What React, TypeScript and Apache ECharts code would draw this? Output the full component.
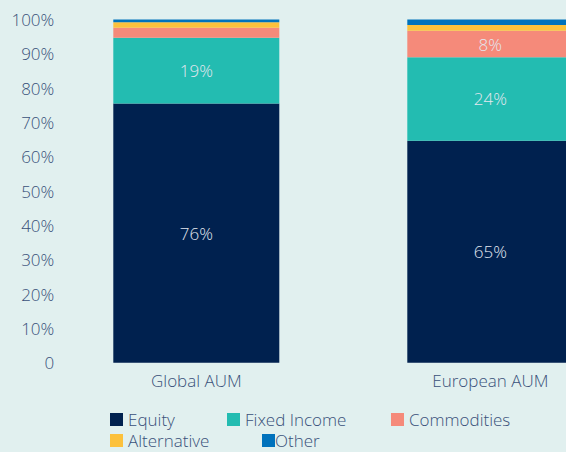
import React, { useEffect, useRef } from "react";
import * as echarts from "echarts";

const categories = ["Global AUM", "European AUM"];
const seriesNames = ["Equity", "Fixed Income", "Commodities", "Alternative", "Other"];
const equity = [75.5, 64.7];
const fixedIncome = [19.2, 24.3];
const commodities = [2.9, 7.7];
const alternative = [1.6, 1.7];
const other = [0.8, 1.6];
const colors = ["#00214f", "#23bcb1", "#f58a7a", "#fcc13c", "#0072bc"];

const FONT = "'Open Sans', sans-serif";
const TEXT = "#39507a";

export default function App() {
  const ref = useRef<HTMLDivElement>(null);
  useEffect(() => {
    if (!ref.current) return;
    const chart = echarts.init(ref.current, null, { renderer: "svg" });
    const values = [equity, fixedIncome, commodities, alternative, other];
    const legendPos = [
      { left: 110, top: 411 },
      { left: 227, top: 411 },
      { left: 391, top: 411 },
      { left: 110, top: 432 },
      { left: 262, top: 432 },
    ];
    chart.setOption({
      animation: false,
      backgroundColor: "#e1f0ef",
      textStyle: { fontFamily: FONT },
      grid: { left: 49.3, top: 19.5, width: 588, height: 343.2, containLabel: false },
      legend: seriesNames.map((n, i) => ({
        data: [n],
        left: legendPos[i].left,
        top: legendPos[i].top,
        icon: "rect",
        itemWidth: 13,
        itemHeight: 13,
        padding: 0,
        textStyle: {
          color: TEXT,
          fontSize: 17,
          fontWeight: 300,
          lineHeight: 13,
          fontFamily: FONT,
          padding: i === 4 ? [0, 0, 0, -5] : [0, 0, 0, 0],
        },
      })),
      xAxis: {
        type: "category",
        data: categories,
        axisLine: { show: false },
        axisTick: { show: false },
        axisLabel: { color: TEXT, fontSize: 17, fontWeight: 300, margin: 9 },
      },
      yAxis: {
        type: "value",
        min: 0,
        max: 100,
        interval: 10,
        splitLine: { show: false },
        axisLine: { show: false },
        axisTick: { show: false },
        axisLabel: {
          color: TEXT,
          fontSize: 17,
          fontWeight: 300,
          margin: -5,
          formatter: (v: number) => (v === 0 ? "0" : v + "%"),
        },
      },
      series: seriesNames.map((n, i) => ({
        name: n,
        type: "bar",
        stack: "total",
        barWidth: 166,
        itemStyle: { color: colors[i] },
        data: values[i],
        label: {
          show: true,
          position: "inside",
          color: "#e3e7ef",
          fontSize: 17,
          fontWeight: 300,
          formatter: (p: any) => (p.value >= 5 ? Math.round(p.value) + "%" : ""),
        },
      })),
    });
    return () => chart.dispose();
  }, []);
  return (
    <div
      style={{ position: "fixed", left: 0, top: 0, width: 566, height: 452, overflow: "hidden" }}
    >
      <div ref={ref} style={{ width: 680, height: 452 }} />
    </div>
  );
}
